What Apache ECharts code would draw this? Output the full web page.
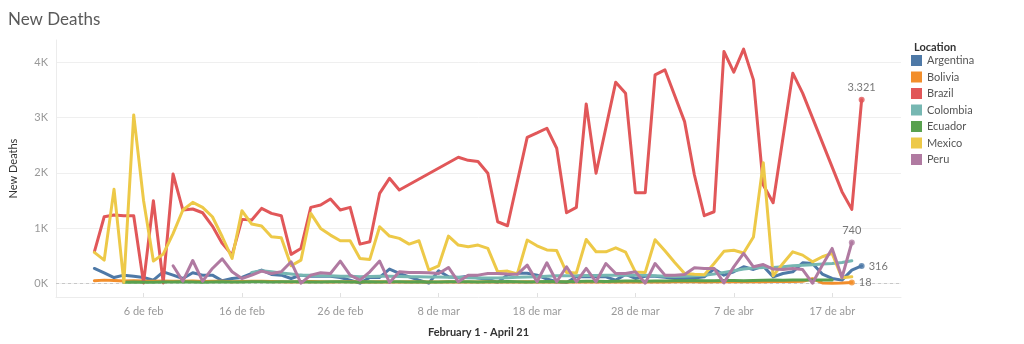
<!DOCTYPE html>
<html>
<head>
<meta charset="utf-8">
<script src="https://cdn.jsdelivr.net/npm/echarts@6/dist/echarts.min.js"></script>
<style>
  html, body { margin: 0; padding: 0; background: #ffffff; }
  #chart { width: 1024px; height: 344px; }
</style>
</head>
<body>
<div id="chart"></div>
<script>
// Daily new deaths, 1 Feb 2021 onwards (index 0 = 1 Feb). null = no report that day.
const startDate = Date.UTC(2021, 1, 1);
const monthAbbr = ['ene', 'feb', 'mar', 'abr', 'may', 'jun', 'jul', 'ago', 'sep', 'oct', 'nov', 'dic'];
const tickDays = [5, 15, 25, 35, 45, 55, 65, 75];      // 6 feb ... 17 abr
const yTicks = [0, 1000, 2000, 3000, 4000];

const locations = ['Argentina', 'Bolivia', 'Brazil', 'Colombia', 'Ecuador', 'Mexico', 'Peru'];
const colors = ['#4e79a7', '#f28e2b', '#e15759', '#76b7b2', '#59a14f', '#edc948', '#b07aa1'];

const argentina = [271, 192, 107, 150, 132, 108, 60, 210, 150, 90, 192, 150, 150, 48, 90, 108, 180, 241, 162, 150,
  90, 150, 132, 132, 132, 108, 60, 5, 108, 108, 259, 181, 120, 60, 5, 229, 120, 108, 132, 100,
  75, 20, 155, 185, 185, 150, 80, 30, 18, 120, 120, 120, 120, 60, 162, 90, 130, 130, 110, 90,
  90, 100, 120, 259, 150, 211, 301, 253, 313, 120, 180, 211, 373, 361, 170, 90, 60, 240, 316];

const bolivia = [50, 60, 55, 45, 48, 42, 40, 45, 38, 40, 42, 35, 40, 38, 30, 36, 40, 38, 35, 30,
  28, 32, 35, 30, 28, 32, 30, 25, 28, 30, 26, 28, 30, 27, 25, 28, 30, 26, 24, 28,
  30, 26, 25, 28, 30, 27, 25, 26, 28, 30, 27, 25, 28, 30, 26, 28, 30, 27, 28, 30,
  32, 30, 28, 30, 32, 30, 34, 32, 30, 34, 36, 34, 40, 85, 10, 5, 8, 18, null];

const brazil = [572, 1205, 1236, 1224, 1224, 10, 1495, 10, 1978, 1327, 1345, 1278, 1037, 724, 512, 1158, 1146, 1357, 1267, 1224,
  525, 633, 1375, 1417, 1526, 1327, 1375, 711, 753, 1629, 1900, 1689, null, null, null, null, null, 2281, 2225, 2205,
  1991, 1115, 1043, null, 2640, 2720, 2805, 2443, 1278, 1375, 3245, 1991, null, 3638, 3439, 1640, 1640, 3770, 3861, null,
  2925, 1960, 1224, 1296, 4192, 3819, 4235, 3680, 1779, 1459, null, 3801, 3439, null, null, null, 1659, 1339, 3321];

const colombia = [null, null, null, null, null, null, null, null, null, null, null, null, null, null, null, null, 200, 230, 210, 190,
  170, 150, 150, 140, 140, 130, 130, 120, 125, 130, 130, 125, 120, 120, 115, 115, 110, 110, 105, 100,
  100, 100, 105, 110, 115, 120, 130, 140, 140, 140, 145, 145, 150, 150, 150, 150, 150, 140, 130, 125,
  130, 140, 150, 170, 200, 230, 260, 280, 290, 290, 300, 320, 330, 340, 350, 360, 380, 410, null];

const ecuador = [null, null, null, 20, 25, 22, 20, 25, 28, 30, 25, 22, 28, 30, 25, 28, 30, 32, 28, 30,
  32, 30, 28, 25, 30, 32, 28, 25, 30, 28, 30, 32, 28, 30, 25, 28, 30, 32, 30, 28,
  30, 32, 35, 30, 28, 32, 35, 30, 32, 35, 40, 38, 35, 40, 42, 45, 40, 42, 45, 48,
  50, 52, 48, 50, 55, 52, 50, 55, 58, 60, 58, 60, 62, 60, 62, 60, null, null, null];

const mexico = [561, 422, 1701, 20, 3046, 1500, 404, 530, 900, 1327, 1466, 1375, 1205, 844, 452, 1314, 1073, 1037, 844, 826,
  319, 422, 1267, 995, 874, 771, 771, 452, 434, 1025, 856, 814, 711, 771, 241, 319, 856, 693, 663, 693,
  633, 210, 223, 170, 784, 680, 605, 595, 200, 190, 795, 572, 572, 644, 565, 205, 199, 790, 590, 380,
  180, 165, 155, 360, 580, 600, 550, 840, 2183, 138, 362, 572, 512, 391, 482, 543, 101, 120, null];

const peru = [null, null, null, null, null, null, null, null, 319, 40, 415, 40, 271, 445, 211, 90, 150, 223, 180, 211,
  392, 5, 150, 193, 180, 404, 150, 60, 211, 404, 18, 211, 199, 199, 193, 180, 289, 30, 150, 150,
  180, 180, 170, 165, 331, 30, 373, 30, 301, 30, 271, 30, 361, 180, 180, 211, 5, 361, 150, 150,
  160, 283, 271, 271, 10, 300, 543, 301, 341, 260, 250, 270, 250, 5, 330, 633, 108, 740, null];

const seriesValues = [argentina, bolivia, brazil, colombia, ecuador, mexico, peru];
const labelledEnds = ['Brazil', 'Peru', 'Argentina', 'Bolivia'];
const endLabelPos = { Brazil: 'top', Peru: 'top', Argentina: 'right', Bolivia: 'right' };

function dayLabel(d) {
  const dt = new Date(startDate + d * 86400000);
  return dt.getUTCDate() + ' de ' + monthAbbr[dt.getUTCMonth()];
}
function kLabel(v) { return (v / 1000) + 'K'; }
function thousands(v) { return String(v).replace(/\B(?=(\d{3})+(?!\d))/g, '.'); }

function points(values) {
  const out = [];
  values.forEach((v, i) => { if (v !== null) out.push([i, v]); });
  return out;
}
function lastPoint(values) {
  const p = points(values);
  return p[p.length - 1];
}

const lineSeries = locations.map((name, k) => ({
  name,
  type: 'line',
  data: points(seriesValues[k]),
  showSymbol: false,
  symbol: 'none',
  color: colors[k],
  lineStyle: { width: 3, color: colors[k], join: 'round', cap: 'round' },
  emphasis: { disabled: true },
  z: 3
}));

// zero baseline
lineSeries[0].markLine = {
  silent: true,
  symbol: 'none',
  label: { show: false },
  lineStyle: { color: '#c8c8c8', type: [3, 3], width: 1 },
  data: [{ yAxis: 0 }],
  z: 1
};

const endSeries = labelledEnds.map(name => {
  const k = locations.indexOf(name);
  return {
    name: name + ' end',
    type: 'scatter',
    data: [lastPoint(seriesValues[k])],
    symbol: 'circle',
    symbolSize: 6,
    itemStyle: { color: colors[k] },
    label: {
      show: true,
      position: endLabelPos[name],
      distance: 4,
      color: '#555',
      fontSize: 11,
      fontFamily: 'Lato, sans-serif',
      formatter: p => thousands(p.value[1])
    },
    emphasis: { disabled: true },
    z: 5
  };
});

const chart = echarts.init(document.getElementById('chart'), null, { renderer: 'canvas' });
chart.setOption({
  animation: false,
  backgroundColor: '#ffffff',
  textStyle: { fontFamily: 'Lato, sans-serif' },
  title: [
    { text: 'New Deaths', left: 3, top: 6, textStyle: { fontSize: 17, fontWeight: 'normal', color: '#5a5a5a', fontFamily: 'Lato, sans-serif' } },
    { text: 'Location', left: 909, top: 37, textStyle: { fontSize: 11, fontWeight: 'bold', color: '#333', fontFamily: 'Lato, sans-serif' } }
  ],
  legend: {
    data: locations,
    orient: 'vertical',
    left: 906,
    top: 50,
    itemWidth: 11,
    itemHeight: 11,
    itemGap: 5.5,
    icon: 'rect',
    selectedMode: false,
    textStyle: { fontSize: 11, color: '#555' }
  },
  grid: { left: 56, right: 123, top: 40, bottom: 47 },
  xAxis: {
    type: 'value',
    min: -3.9,
    max: 82,
    name: 'February 1 - April 21',
    nameLocation: 'middle',
    nameGap: 30,
    nameTextStyle: { fontSize: 11, fontWeight: 'bold', color: '#333' },
    axisLine: { show: true, onZero: false, lineStyle: { color: '#ececec' } },
    axisTick: { show: true, inside: true, length: 4, lineStyle: { color: '#e0e0e0' }, customValues: tickDays },
    axisLabel: { customValues: tickDays, formatter: dayLabel, color: '#999', fontSize: 11, margin: 9 },
    splitLine: { show: false }
  },
  yAxis: {
    type: 'value',
    min: -245,
    max: 4400,
    name: 'New Deaths',
    nameLocation: 'middle',
    nameGap: 37,
    nameRotate: 90,
    nameTextStyle: { fontSize: 11, color: '#333' },
    axisLine: { show: true, onZero: false, lineStyle: { color: '#ececec' } },
    axisTick: { show: false, customValues: yTicks },
    axisLabel: { customValues: yTicks, formatter: kLabel, color: '#999', fontSize: 11, margin: 8 },
    splitLine: { show: true, lineStyle: { color: '#efefef', width: 1 } }
  },
  series: lineSeries.concat(endSeries)
});
</script>
</body>
</html>
